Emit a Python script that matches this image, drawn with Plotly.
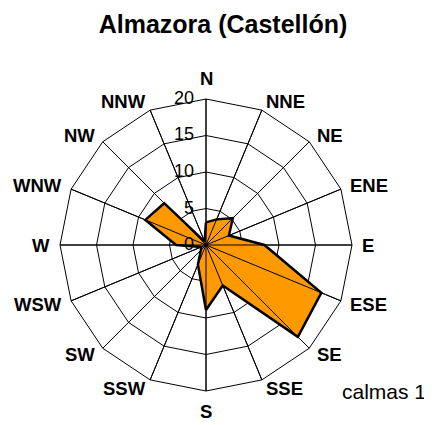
import math
import plotly.graph_objects as go

directions = ["N", "NNE", "NE", "ENE", "E", "ESE", "SE", "SSE",
              "S", "SSW", "SW", "WSW", "W", "WNW", "NW", "NNW"]
frequencies = [3.1, 3.8, 5.2, 3.4, 8.0, 17.1, 17.8, 6.0,
               8.9, 2.9, 1.0, 0.7, 4.1, 9.0, 8.1, 0.5]
radial_ticks = [0, 5, 10, 15, 20]
title_text = "Almazora (Castellón)"
calm_text = "calmas 1"

r_closed = frequencies + [frequencies[0]]
theta_closed = directions + [directions[0]]

FONT = "Liberation Sans, Arial, sans-serif"
W, H = 432, 425
OFF = 8  # page body margin
cx, cy, R = 206 - OFF, 245 - OFF, 146
RMAX = radial_ticks[-1]

fig = go.Figure()
fig.add_trace(go.Scatterpolar(
    r=r_closed, theta=theta_closed, mode="lines", fill="toself",
    fillcolor="#FF9900", line=dict(color="black", width=2.5),
    hoverinfo="skip", showlegend=False))
for d in directions:
    fig.add_trace(go.Scatterpolar(
        r=[0, RMAX], theta=[d, d], mode="lines",
        line=dict(color="black", width=1), hoverinfo="skip", showlegend=False))

annotations = []
for i, d in enumerate(directions):
    a = math.radians(i * 22.5)
    s, c = math.sin(a), math.cos(a)
    rl = 155
    x = cx + rl * s
    y = cy - rl * c
    if s > 0.1:
        xa = "left"
    elif s < -0.1:
        xa = "right"
    else:
        xa = "center"
    if abs(s) <= 0.1:
        ya = "bottom" if c > 0 else "top"
    else:
        ya = "middle"
    annotations.append(dict(text="<b>%s</b>" % d, x=x / W, y=1 - y / H,
                            xref="paper", yref="paper", showarrow=False,
                            xanchor=xa, yanchor=ya, borderpad=0,
                            font=dict(size=18.5, family=FONT)))
# radial tick labels, placed by the radial scale along the N spoke
for v in radial_ticks:
    y = cy - v / RMAX * R - 1
    annotations.append(dict(text=str(v), x=(cx - 11) / W, y=1 - y / H,
                            xref="paper", yref="paper", showarrow=False,
                            xanchor="right", yanchor="middle", borderpad=0,
                            font=dict(size=18, family=FONT)))
annotations.append(dict(text=calm_text, x=(384 - OFF) / W, y=1 - (391 - OFF) / H,
                        xref="paper", yref="paper", showarrow=False,
                        font=dict(size=21, family=FONT), xanchor="center", yanchor="middle"))

fig.update_layout(
    width=W, height=H,
    margin=dict(l=0, r=0, t=0, b=0),
    paper_bgcolor="white", plot_bgcolor="white",
    font=dict(family=FONT, color="black"),
    title=dict(text="<b>" + title_text + "</b>", x=(223 - OFF) / W, xanchor="center",
               y=1 - (24 - OFF) / H, yanchor="middle", font=dict(size=25)),
    polar=dict(
        domain=dict(x=[(cx - R) / W, (cx + R) / W],
                    y=[1 - (cy + R) / H, 1 - (cy - R) / H]),
        gridshape="linear",
        bgcolor="white",
        radialaxis=dict(range=[0, RMAX], tickvals=radial_ticks, angle=90,
                        showline=False, gridcolor="black", gridwidth=1,
                        ticks="", showticklabels=False),
        angularaxis=dict(categoryarray=directions, categoryorder="array",
                         direction="clockwise", rotation=90,
                         showline=True, linecolor="black", linewidth=1,
                         gridcolor="black", gridwidth=1, ticks="",
                         showticklabels=False),
    ),
    annotations=annotations,
)
fig.write_html("out.html")
